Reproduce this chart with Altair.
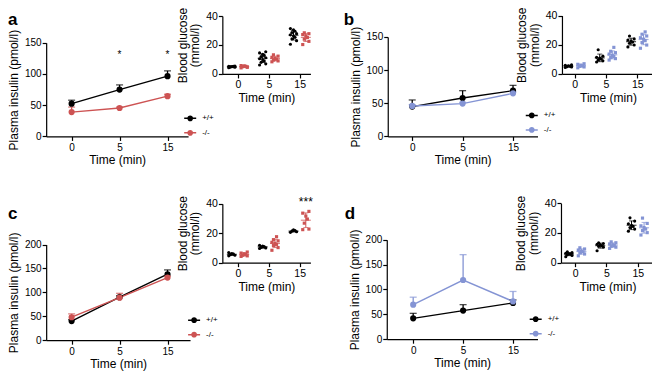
import altair as alt
import pandas as pd

FONT = "Liberation Sans"
W, H = 644, 365

TIMES = ["0", "5", "15"]
GROUPS = ["+/+", "-/-"]
BLACK = "#000000"
RED = "#cd5353"
BLUE = "#8494d4"

# ---- plasma insulin (mean, SEM) ----
a_wt_mean = [52.5, 75.0, 96.5]; a_wt_sem = [5.5, 7.5, 8.5]
a_ko_mean = [39.0, 45.5, 64.5]; a_ko_sem = [8.0, 1.5, 3.0]
b_wt_mean = [45.0, 58.0, 69.0]; b_wt_sem = [10.0, 11.0, 8.0]
b_ko_mean = [46.0, 49.5, 65.0]; b_ko_sem = [2.0, 2.0, 2.0]
c_wt_mean = [40.0, 90.0, 138.0]; c_wt_sem = [3.0, 3.0, 9.0]
c_ko_mean = [48.0, 89.0, 131.0]; c_ko_sem = [7.0, 9.0, 3.0]
d_wt_mean = [42.0, 57.5, 73.0]; d_wt_sem = [10.0, 12.0, 6.0]
d_ko_mean = [69.5, 119.0, 76.0]; d_ko_sem = [15.0, 51.0, 20.0]

# ---- blood glucose, individual animals ----
a_wt_glc = [[4.3, 4.6, 4.8, 5.0, 5.1, 5.3, 5.5, 4.9, 5.2],
            [6.2, 7.0, 8.0, 9.0, 9.8, 10.5, 11.2, 12.0, 12.8, 13.6, 14.5, 15.3],
            [20.5, 23.0, 24.2, 25.3, 26.2, 27.0, 27.8, 28.6, 29.5, 30.5, 31.3]]
a_ko_glc = [[4.2, 4.6, 5.0, 5.3, 5.6, 5.8, 4.9],
            [8.4, 9.0, 9.6, 10.2, 10.8, 11.5, 12.3, 13.2],
            [20.3, 22.5, 24.0, 25.2, 26.3, 27.2, 27.8, 28.4]]
b_wt_glc = [[4.4, 4.8, 5.0, 5.3, 5.6, 5.9, 6.2],
            [8.2, 9.0, 9.6, 10.2, 10.8, 11.4, 12.2, 16.6],
            [18.5, 19.8, 21.0, 21.8, 22.5, 23.2, 24.0, 26.0]]
b_ko_glc = [[4.2, 4.8, 5.2, 5.6, 6.0, 6.6, 7.0],
            [9.5, 10.5, 11.2, 12.0, 12.8, 13.6, 14.6, 15.5, 18.2],
            [17.6, 19.8, 21.5, 22.8, 23.8, 24.8, 26.0, 27.2, 28.8]]
c_wt_glc = [[4.6, 5.0, 5.4, 5.8, 6.2, 6.8],
            [9.6, 10.0, 10.4, 10.8, 11.2, 11.8],
            [20.6, 21.0, 21.4, 21.8, 22.2]]
c_ko_glc = [[4.2, 4.6, 5.0, 5.5, 6.0, 6.5, 7.2],
            [8.4, 10.2, 11.6, 12.4, 13.0, 13.8, 14.8, 15.6, 17.6],
            [22.4, 22.8, 26.8, 29.6, 31.6, 33.6, 34.8]]
d_wt_glc = [[4.0, 4.8, 5.3, 5.7, 6.0, 6.3, 6.7, 7.2],
            [8.0, 10.4, 11.0, 11.5, 12.0, 12.4, 12.9, 13.4],
            [21.2, 22.6, 23.6, 24.4, 25.2, 26.2, 28.0, 30.2]]
d_ko_glc = [[4.6, 5.8, 6.6, 7.3, 7.8, 8.5, 9.2, 10.0],
            [9.6, 10.4, 11.0, 11.6, 12.0, 12.6, 13.4, 14.0],
            [18.6, 20.2, 21.6, 22.6, 23.6, 24.8, 26.4, 30.0]]

# significance marks
a_star_ti = [1, 2]; a_star_level = [130, 130]; a_star_text = ["*", "*"]
c_sig_ti = [2.2]; c_sig_level = [41.5]; c_sig_text = ["***"]


# ---- layout (reference pixel coordinates mapped into the view) ----
def XV(x):
    return (x - 2) * W / 658


def YV(y):
    return (y - 4) * H / 378


LAY = {
    "a": dict(main=dict(ax=41, xe=186, t0=67, st=49, y0=137, yt=40),
              ins=dict(ax=221, xe=311, t0=237, st=31.5, y0=72.3, yt=12.3),
              leg=(181, 111)),
    "b": dict(main=dict(ax=390, xe=543, t0=415, st=51.5, y0=137, yt=34),
              ins=dict(ax=568, xe=662, t0=581, st=32, y0=72.3, yt=11.8),
              leg=(530, 108)),
    "c": dict(main=dict(ax=41, xe=188, t0=67, st=49, y0=348, yt=249),
              ins=dict(ax=221, xe=311, t0=237, st=31.5, y0=267.7, yt=206.7),
              leg=(185, 320)),
    "d": dict(main=dict(ax=389, xe=543, t0=416, st=51, y0=347, yt=244),
              ins=dict(ax=567, xe=662, t0=581.5, st=32, y0=267.7, yt=206.2),
              leg=(534, 319)),
}
# panel letters: (x, baseline) in view pixels
LETTERS = {"a": (0, 16.5), "b": (XV(345), 16.5), "c": (0, YV(222)), "d": (XV(346), YV(223))}

LABEL_EXPR = "[" + ",".join("'%s'" % t for t in TIMES) + "][datum.value]"
SYM = "M-1,0H1M0.36,0A0.36,0.36,0,1,1,-0.36,0A0.36,0.36,0,1,1,0.36,0Z"


def xscale(L):
    dmin = (L["ax"] - L["t0"]) / L["st"]
    dmax = (L["xe"] - L["t0"]) / L["st"]
    return alt.Scale(domain=[dmin, dmax], range=[XV(L["ax"]), XV(L["xe"])], nice=False, zero=False)


def yscale(L, ymax):
    return alt.Scale(domain=[0, ymax], range=[YV(L["y0"]), YV(L["yt"])], nice=False, zero=False)


def xaxis(L, fs):
    return alt.Axis(orient="bottom", offset=YV(L["y0"]) - H, values=[0, 1, 2], labelExpr=LABEL_EXPR,
                    title="Time (min)", labelFontSize=fs, grid=False, labelFlush=False,
                    titleFontWeight="normal", labelPadding=2, titlePadding=2)


def yaxis(L, vals, title, fs):
    return alt.Axis(orient="left", offset=-XV(L["ax"]), values=vals, title=title, labelFontSize=fs,
                    grid=False, titleFontWeight="normal", labelPadding=1, titlePadding=4)


def legend(pos):
    return alt.Legend(title=None, orient="none", legendX=XV(pos[0]), legendY=YV(pos[1]),
                      symbolType=SYM, symbolSize=144, symbolStrokeWidth=1.5, labelFontSize=8,
                      labelOffset=5, rowPadding=1.5, padding=0, labelFont=FONT, labelColor="black")


def main_panel(wm, ws, km, ks, L, legpos, ymax, yvals, col, stars=None):
    rows = []
    for g, m, s in ((GROUPS[0], wm, ws), (GROUPS[1], km, ks)):
        for i in range(3):
            rows.append(dict(group=g, ti=i, mean=m[i], upper=m[i] + s[i]))
    df = pd.DataFrame(rows)
    xs = xscale(L)
    ys = yscale(L, ymax)
    cs = alt.Scale(domain=GROUPS, range=[BLACK, col])
    leg = legend(legpos)
    X = alt.X("ti:Q", scale=xs, axis=xaxis(L, 10))
    yax = yaxis(L, yvals, "Plasma insulin (pmol/l)", 10)
    base = alt.Chart(df)
    line = base.mark_line(strokeWidth=1.4).encode(
        x=X, y=alt.Y("mean:Q", scale=ys, axis=yax),
        stroke=alt.Stroke("group:N", scale=cs, legend=leg))
    rule = base.mark_rule(strokeWidth=1.3).encode(
        x=X, y=alt.Y("mean:Q", scale=ys, axis=yax), y2="upper:Q",
        stroke=alt.Stroke("group:N", scale=cs, legend=leg))
    cap = base.mark_tick(orient="horizontal", size=7, thickness=1.3).encode(
        x=X, y=alt.Y("upper:Q", scale=ys, axis=yax),
        fill=alt.Fill("group:N", scale=cs, legend=leg))
    pts = base.mark_point(filled=True, size=38, opacity=1, strokeWidth=0).encode(
        x=X, y=alt.Y("mean:Q", scale=ys, axis=yax),
        fill=alt.Fill("group:N", scale=cs, legend=leg),
        stroke=alt.Stroke("group:N", scale=cs, legend=leg))
    layers = [line, rule, cap, pts]
    if stars is not None:
        sdf = pd.DataFrame({"ti": stars[0], "v": stars[1], "s": stars[2]})
        layers.append(alt.Chart(sdf).mark_text(fontSize=10, font=FONT, color="black").encode(
            x=X, y=alt.Y("v:Q", scale=ys, axis=yax), text="s:N"))
    return alt.layer(*layers)


def inset_panel(wg, kg, L, col, sig=None):
    rows = []
    for g, series in ((GROUPS[0], wg), (GROUPS[1], kg)):
        for i in range(3):
            for v in series[i]:
                rows.append(dict(group=g, ti=i, v=v))
    df = pd.DataFrame(rows)
    xs = xscale(L)
    ys = yscale(L, 40)
    cs = alt.Scale(domain=GROUPS, range=[BLACK, col])
    X = alt.X("xp:Q", scale=xs, axis=xaxis(L, 10.5))
    yax = yaxis(L, [0, 20, 40], ["Blood glucose", "(mmol/l)"], 10.5)
    dodge = "(datum.group == '%s' ? -0.2 : 0.2)" % GROUPS[0]
    pts = alt.Chart(df).transform_window(
        k="row_number()", groupby=["group", "ti"]
    ).transform_calculate(
        xp="datum.ti + " + dodge + " + [0, -2, 2, -1, 1][datum.k % 5] * 0.05"
    ).mark_point(filled=True, size=10, opacity=1, strokeWidth=0).encode(
        x=X, y=alt.Y("v:Q", scale=ys, axis=yax),
        fill=alt.Fill("group:N", scale=cs, legend=None),
        shape=alt.Shape("group:N", scale=alt.Scale(domain=GROUPS, range=["circle", "square"]), legend=None))
    stats = alt.Chart(df).transform_aggregate(
        m="mean(v)", s="stdev(v)", groupby=["group", "ti"]
    ).transform_calculate(
        xp="datum.ti + " + dodge, lo="datum.m - datum.s", hi="datum.m + datum.s")
    rule = stats.mark_rule(strokeWidth=1).encode(
        x=X, y=alt.Y("lo:Q", scale=ys, axis=yax), y2="hi:Q",
        stroke=alt.Stroke("group:N", scale=cs, legend=None))
    caplo = stats.mark_tick(orient="horizontal", size=5, thickness=1).encode(
        x=X, y=alt.Y("lo:Q", scale=ys, axis=yax), fill=alt.Fill("group:N", scale=cs, legend=None))
    caphi = stats.mark_tick(orient="horizontal", size=5, thickness=1).encode(
        x=X, y=alt.Y("hi:Q", scale=ys, axis=yax), fill=alt.Fill("group:N", scale=cs, legend=None))
    mean = stats.mark_tick(orient="horizontal", size=10, thickness=1.2).encode(
        x=X, y=alt.Y("m:Q", scale=ys, axis=yax), fill=alt.Fill("group:N", scale=cs, legend=None))
    layers = [pts, rule, caplo, caphi, mean]
    if sig is not None:
        sdf = pd.DataFrame({"xp": sig[0], "v": sig[1], "s": sig[2]})
        layers.append(alt.Chart(sdf).mark_text(fontSize=12, font=FONT, color="black").encode(
            x=X, y=alt.Y("v:Q", scale=ys, axis=yax), text="s:N"))
    return alt.layer(*layers)


def letter(ch, pos):
    return alt.Chart(alt.Data(values=[{}])).mark_text(
        text=ch, fontSize=17, fontWeight="bold", align="left", baseline="alphabetic", font=FONT, color="black"
    ).encode(x=alt.value(pos[0]), y=alt.value(pos[1]))


panels = [
    main_panel(a_wt_mean, a_wt_sem, a_ko_mean, a_ko_sem, LAY["a"]["main"], LAY["a"]["leg"], 150, [0, 50, 100, 150], RED,
               stars=(a_star_ti, a_star_level, a_star_text)),
    inset_panel(a_wt_glc, a_ko_glc, LAY["a"]["ins"], RED),
    main_panel(b_wt_mean, b_wt_sem, b_ko_mean, b_ko_sem, LAY["b"]["main"], LAY["b"]["leg"], 150, [0, 50, 100, 150], BLUE),
    inset_panel(b_wt_glc, b_ko_glc, LAY["b"]["ins"], BLUE),
    main_panel(c_wt_mean, c_wt_sem, c_ko_mean, c_ko_sem, LAY["c"]["main"], LAY["c"]["leg"], 200, [0, 50, 100, 150, 200], RED),
    inset_panel(c_wt_glc, c_ko_glc, LAY["c"]["ins"], RED, sig=(c_sig_ti, c_sig_level, c_sig_text)),
    main_panel(d_wt_mean, d_wt_sem, d_ko_mean, d_ko_sem, LAY["d"]["main"], LAY["d"]["leg"], 200, [0, 50, 100, 150, 200], BLUE),
    inset_panel(d_wt_glc, d_ko_glc, LAY["d"]["ins"], BLUE),
] + [letter(ch, pos) for ch, pos in LETTERS.items()]

chart = alt.layer(*panels).resolve_scale(
    x="independent", y="independent", fill="independent", stroke="independent", shape="independent"
).properties(
    width=W, height=H, padding=0, autosize=alt.AutoSizeParams(type="none")
).configure_view(stroke=None).configure_axis(
    domainColor="black", domainWidth=1.2, tickColor="black", tickWidth=1.2, tickSize=4,
    labelColor="black", titleColor="black", labelFont=FONT, titleFont=FONT,
    titleFontSize=12, titleFontWeight="normal", grid=False, titleLineHeight=12.5
)

chart.save("out.html", embed_options={"renderer": "svg", "actions": False})
